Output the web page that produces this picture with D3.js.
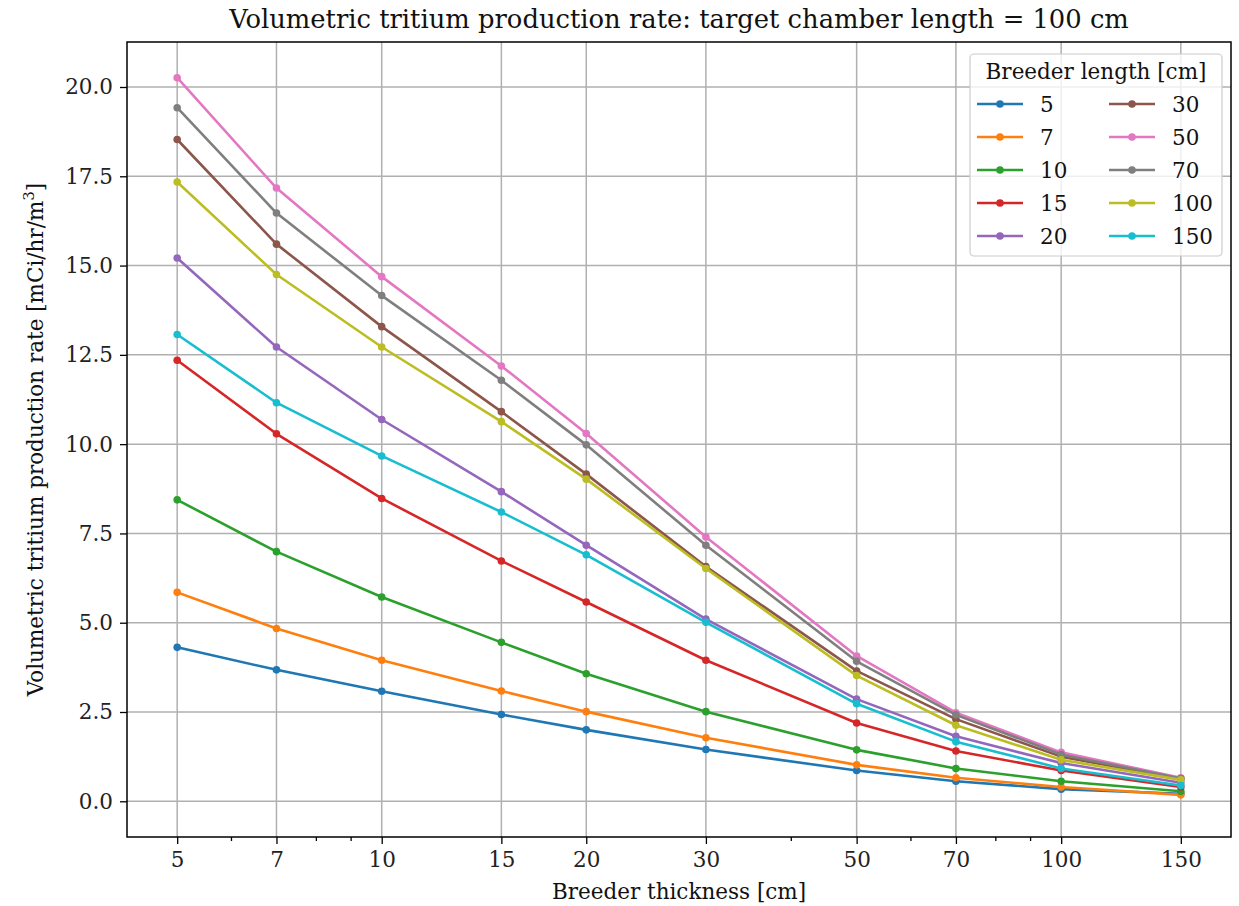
<!DOCTYPE html>
<html>
<head>
<meta charset="utf-8">
<script src="https://cdn.jsdelivr.net/npm/d3@7"></script>
<style>
  html, body { margin: 0; padding: 0; background: #fff; }
  svg { display: block; font-family: "DejaVu Serif", serif; }
</style>
</head>
<body>
<svg id="chart" width="1239" height="906"></svg>
<script>
// ---- data ----
const thickness = [5, 7, 10, 15, 20, 30, 50, 70, 100, 150];
const breederLengths = [5, 7, 10, 15, 20, 30, 50, 70, 100, 150];
const L5   = [4.31, 3.68, 3.08, 2.43, 2.00, 1.45, 0.86, 0.56, 0.34, 0.21];
const L7   = [5.85, 4.84, 3.95, 3.09, 2.51, 1.78, 1.02, 0.66, 0.40, 0.18];
const L10  = [8.44, 6.99, 5.72, 4.45, 3.57, 2.51, 1.44, 0.92, 0.56, 0.28];
const L15  = [12.35, 10.29, 8.48, 6.73, 5.58, 3.95, 2.19, 1.41, 0.86, 0.40];
const L20  = [15.21, 12.72, 10.69, 8.67, 7.17, 5.10, 2.86, 1.82, 1.07, 0.52];
const L30  = [18.53, 15.60, 13.29, 10.91, 9.16, 6.57, 3.65, 2.30, 1.25, 0.62];
const L50  = [20.26, 17.17, 14.69, 12.19, 10.30, 7.40, 4.07, 2.48, 1.37, 0.66];
const L70  = [19.42, 16.47, 14.16, 11.79, 9.98, 7.17, 3.92, 2.42, 1.31, 0.64];
const L100 = [17.34, 14.75, 12.72, 10.63, 9.02, 6.52, 3.52, 2.13, 1.16, 0.60];
const L150 = [13.07, 11.16, 9.67, 8.10, 6.90, 5.01, 2.73, 1.67, 0.92, 0.44];
const seriesValues = [L5, L7, L10, L15, L20, L30, L50, L70, L100, L150];
const colors = ["#1f77b4", "#ff7f0e", "#2ca02c", "#d62728", "#9467bd",
                "#8c564b", "#e377c2", "#7f7f7f", "#bcbd22", "#17becf"];
const xTicks = [5, 7, 10, 15, 20, 30, 50, 70, 100, 150];
const xMinorTicks = [6, 8, 9, 40, 60, 80, 90];
const yTicks = [0, 2.5, 5, 7.5, 10, 12.5, 15, 17.5, 20];

// ---- layout ----
const svg = d3.select("#chart");
const pL = 127, pR = 1231, pT = 42, pB = 837;
const FS = 21.5;

const logPad = Math.pow(150 / 5, 0.05);
const x = d3.scaleLog().domain([5 / logPad, 150 * logPad]).range([pL, pR]);
const y = d3.scaleLinear().domain([-1.0, 21.26]).range([pB, pT]);

// grid
const grid = svg.append("g");
grid.selectAll("line.vx").data(xTicks).enter().append("line")
  .attr("x1", d => x(d)).attr("x2", d => x(d)).attr("y1", pT).attr("y2", pB)
  .attr("stroke", "#b0b0b0").attr("stroke-width", 1.5);
grid.selectAll("line.hy").data(yTicks).enter().append("line")
  .attr("x1", pL).attr("x2", pR).attr("y1", d => y(d)).attr("y2", d => y(d))
  .attr("stroke", "#b0b0b0").attr("stroke-width", 1.5);

// axes
const fmtX = d3.format("d");
const xAxis = d3.axisBottom(x).tickValues(xTicks).tickFormat(fmtX).tickSize(7).tickPadding(8);
const xAxisMinor = d3.axisBottom(x).tickValues(xMinorTicks).tickFormat("").tickSize(4);
const yAxis = d3.axisLeft(y).tickValues(yTicks).tickFormat(d3.format(".1f")).tickSize(7).tickPadding(7);

function styleAxis(g) {
  g.select(".domain").remove();
  g.selectAll(".tick line").attr("stroke", "#000").attr("stroke-width", 1.3);
  g.selectAll(".tick text").attr("fill", "#222").style("font-family", "DejaVu Serif").style("font-size", FS + "px");
}
svg.append("g").attr("transform", `translate(0,${pB})`).call(xAxis).call(styleAxis);
svg.append("g").attr("transform", `translate(0,${pB})`).call(xAxisMinor).call(styleAxis);
svg.append("g").attr("transform", `translate(${pL},0)`).call(yAxis).call(styleAxis);

// series
const line = d3.line().x((d, i) => x(thickness[i])).y(d => y(d));
seriesValues.forEach((vals, k) => {
  const g = svg.append("g");
  g.append("path").datum(vals).attr("d", line).attr("fill", "none")
    .attr("stroke", colors[k]).attr("stroke-width", 2.6).attr("stroke-linejoin", "round");
  g.selectAll("circle").data(vals).enter().append("circle")
    .attr("cx", (d, i) => x(thickness[i])).attr("cy", d => y(d)).attr("r", 3.8)
    .attr("fill", colors[k]);
});

// frame
svg.append("rect").attr("x", pL).attr("y", pT).attr("width", pR - pL).attr("height", pB - pT)
  .attr("fill", "none").attr("stroke", "#000").attr("stroke-width", 1.5);

// title & labels
svg.append("text").attr("x", (pL + pR) / 2).attr("y", 28).attr("text-anchor", "middle")
  .style("font-size", "25.8px").attr("fill", "#111")
  .text("Volumetric tritium production rate: target chamber length = 100 cm");
svg.append("text").attr("x", (pL + pR) / 2).attr("y", 899).attr("text-anchor", "middle")
  .style("font-size", FS + "px").attr("fill", "#111").text("Breeder thickness [cm]");
const yl = svg.append("text").attr("transform", `translate(43,${(pT + pB) / 2}) rotate(-90)`)
  .attr("text-anchor", "middle").style("font-size", FS + "px").attr("fill", "#111");
yl.append("tspan").text("Volumetric tritium production rate [mCi/hr/m");
yl.append("tspan").attr("baseline-shift", "super").style("font-size", "15px").text("3");
yl.append("tspan").text("]");

// legend
const lg = svg.append("g");
const lgX = 970, lgY = 54, lgW = 252, lgH = 202;
lg.append("rect").attr("x", lgX).attr("y", lgY).attr("width", lgW).attr("height", lgH)
  .attr("rx", 4).attr("fill", "#fff").attr("fill-opacity", 0.8).attr("stroke", "#cccccc").attr("stroke-width", 1.2);
lg.append("text").attr("x", lgX + lgW / 2).attr("y", 79).attr("text-anchor", "middle")
  .style("font-size", FS + "px").attr("fill", "#111").text("Breeder length [cm]");
breederLengths.forEach((b, k) => {
  const col = Math.floor(k / 5), row = k % 5;
  const hx = col === 0 ? 977 : 1109;
  const ry = 104 + row * 33;
  lg.append("line").attr("x1", hx).attr("x2", hx + 46).attr("y1", ry).attr("y2", ry)
    .attr("stroke", colors[k]).attr("stroke-width", 2.6);
  lg.append("circle").attr("cx", hx + 23).attr("cy", ry).attr("r", 3.8).attr("fill", colors[k]);
  lg.append("text").attr("x", hx + 63).attr("y", ry + 8).style("font-size", FS + "px")
    .attr("fill", "#111").text(b);
});
</script>
</body>
</html>
